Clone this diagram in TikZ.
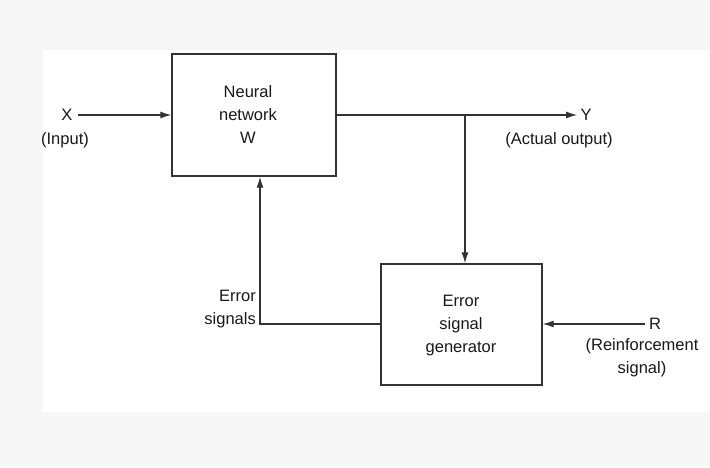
\documentclass[tikz,border=0pt]{standalone}
\usepackage{fontspec}
\setmainfont{Liberation Sans}
\usetikzlibrary{arrows.meta}
\begin{document}
\begin{tikzpicture}[x=1pt,y=-1pt,
  txt/.style={font=\fontsize{16.5}{23}\selectfont, text=black!90, inner sep=0pt, align=center},
  blk/.style={draw=black!80, line width=1.4pt, inner sep=0pt},
  conn/.style={draw=black!80, line width=1.2pt},
  arr/.style={conn, -{Latex[length=11pt,width=7pt]}}]
\useasboundingbox (0,0) rectangle (710,467);
\fill[black!3] (0,0) rectangle (710,467);
\fill[white] (43,50) rectangle (710,412);
% blocks
\node[blk, minimum width=164pt, minimum height=122pt] (nn) at (254,115) {};
\node[txt] (nntext) at (248,115) {Neural\\network\\W};
\node[blk, minimum width=161pt, minimum height=121pt] (esg) at (461.5,324.5) {};
\node[txt] (esgtext) at (461,326) {Error\\signal\\generator};
% labels
\node[txt] (x) at (67,115) {X};
\node[txt] (xin) at (65,140) {(Input)};
\node[txt] (y) at (586,115) {Y};
\node[txt] (yout) at (559,140) {(Actual output)};
\node[txt] (r) at (655,324) {R};
\node[txt] (rsig) at (642,358) {(Reinforcement\\signal)};
\node[txt, align=right, anchor=east] (errs) at (256,309) {Error\\signals};
% coordinates
\coordinate (xs) at (78,115);
\coordinate (br) at (465,115);
\coordinate (ye) at (577,115);
\coordinate (fb) at (260,324);
\coordinate (rs) at (645,324);
% connectors
\draw[arr] (xs) -- (nn.west |- xs);
\draw[arr] (nn.east |- br) -- (ye);
\draw[arr] (br) -- (br |- esg.north);
\draw[arr] (esg.west |- fb) -- (fb) -- (fb |- nn.south);
\draw[arr] (rs) -- (esg.east |- rs);
\end{tikzpicture}
\end{document}
